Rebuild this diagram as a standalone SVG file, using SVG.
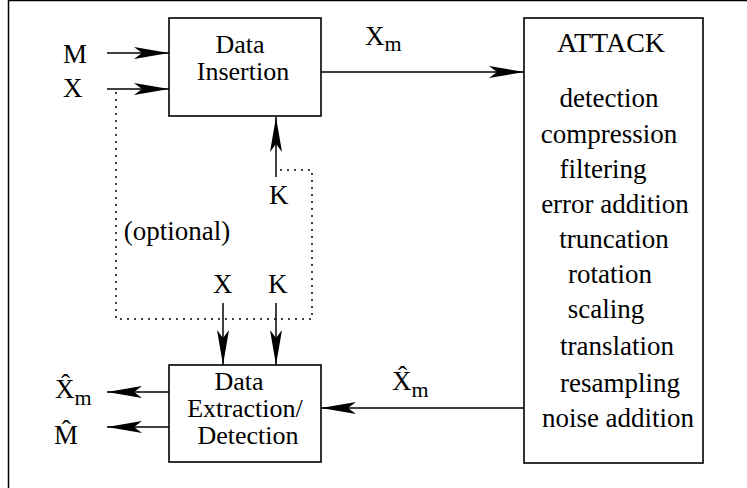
<svg xmlns="http://www.w3.org/2000/svg" width="747" height="488" viewBox="0 0 747 488">
  <defs>
    <style>
      .t { font-family: "Liberation Serif", "DejaVu Serif", "Times New Roman", serif; fill: #000; }
      .bt { font-size: 27px; }
      .bx { font-size: 26px; }
      .lbl { font-size: 27px; }
      .sub { font-size: 22px; }
      .mid { text-anchor: middle; }
      .box { fill: #fff; stroke: #000; stroke-width: 1.6; }
      .line { fill: none; stroke: #000; stroke-width: 1.5; }
      .dot { fill: none; stroke: #000; stroke-width: 1.5; stroke-dasharray: 2 5; }
    </style>
    <marker id="arr" markerUnits="userSpaceOnUse" viewBox="-36 -8 38 16" markerWidth="38" markerHeight="16" refX="0" refY="0" orient="auto">
      <path d="M0,0 L-35,-6 L-27,0 L-35,6 Z" fill="#000"/>
    </marker>
  </defs>
  <rect x="8.5" y="0.5" width="800" height="600" fill="#fff" stroke="#000" stroke-width="1.5"/>

  <g id="connectors">
    <line class="line" x1="107" y1="53" x2="169" y2="53" marker-end="url(#arr)"/>
    <line class="line" x1="107" y1="89" x2="169" y2="89" marker-end="url(#arr)"/>
    <line class="line" x1="321" y1="72" x2="524" y2="72" marker-end="url(#arr)"/>
    <line class="line" x1="276" y1="177" x2="276" y2="117" marker-end="url(#arr)"/>
    <polyline class="dot" points="116,92 116,319 312,319 312,170 278,170"/>
    <line class="line" x1="223" y1="303" x2="223" y2="365" marker-end="url(#arr)"/>
    <line class="line" x1="276" y1="303" x2="276" y2="365" marker-end="url(#arr)"/>
    <line class="line" x1="524" y1="408" x2="321" y2="408" marker-end="url(#arr)"/>
    <line class="line" x1="169" y1="392" x2="107" y2="392" marker-end="url(#arr)"/>
    <line class="line" x1="169" y1="427" x2="107" y2="427" marker-end="url(#arr)"/>
  </g>

  <g id="data-insertion">
    <rect class="box" x="169" y="18" width="152" height="98"/>
    <text class="t bx mid" x="240" y="53">Data</text>
    <text class="t bx mid" x="243" y="80">Insertion</text>
  </g>

  <g id="attack">
    <rect class="box" x="524" y="18" width="179" height="445"/>
    <text class="t mid" x="611" y="52" font-size="28">ATTACK</text>
    <text class="t bt mid" x="609" y="107">detection</text>
    <text class="t bt mid" x="609" y="143">compression</text>
    <text class="t bt mid" x="603" y="178">filtering</text>
    <text class="t bt mid" x="615" y="213">error addition</text>
    <text class="t bt mid" x="614" y="248">truncation</text>
    <text class="t bt mid" x="610" y="283">rotation</text>
    <text class="t bt mid" x="606" y="318">scaling</text>
    <text class="t bt mid" x="617" y="355">translation</text>
    <text class="t bt mid" x="620" y="392">resampling</text>
    <text class="t bt mid" x="618" y="427">noise addition</text>
  </g>

  <g id="data-extraction">
    <rect class="box" x="169" y="365" width="152" height="97"/>
    <text class="t bx mid" x="239" y="390">Data</text>
    <text class="t bx mid" x="245" y="417">Extraction/</text>
    <text class="t bx mid" x="248" y="444">Detection</text>
  </g>

  <g id="labels">
    <text class="t lbl" x="63" y="63">M</text>
    <text class="t lbl" x="63" y="97">X</text>
    <text class="t lbl" x="269" y="204">K</text>
    <text class="t bt mid" x="177" y="240">(optional)</text>
    <text class="t lbl" x="213" y="293">X</text>
    <text class="t lbl" x="268" y="293">K</text>
    <text class="t lbl" x="365" y="45">X<tspan class="sub" dy="6">m</tspan></text>
    <text class="t lbl" x="392" y="390">X&#x302;<tspan class="sub" dy="7">m</tspan></text>
    <text class="t lbl" x="55" y="398">X&#x302;<tspan class="sub" dy="7">m</tspan></text>
    <text class="t lbl" x="54" y="444">M&#x302;</text>
  </g>
</svg>
